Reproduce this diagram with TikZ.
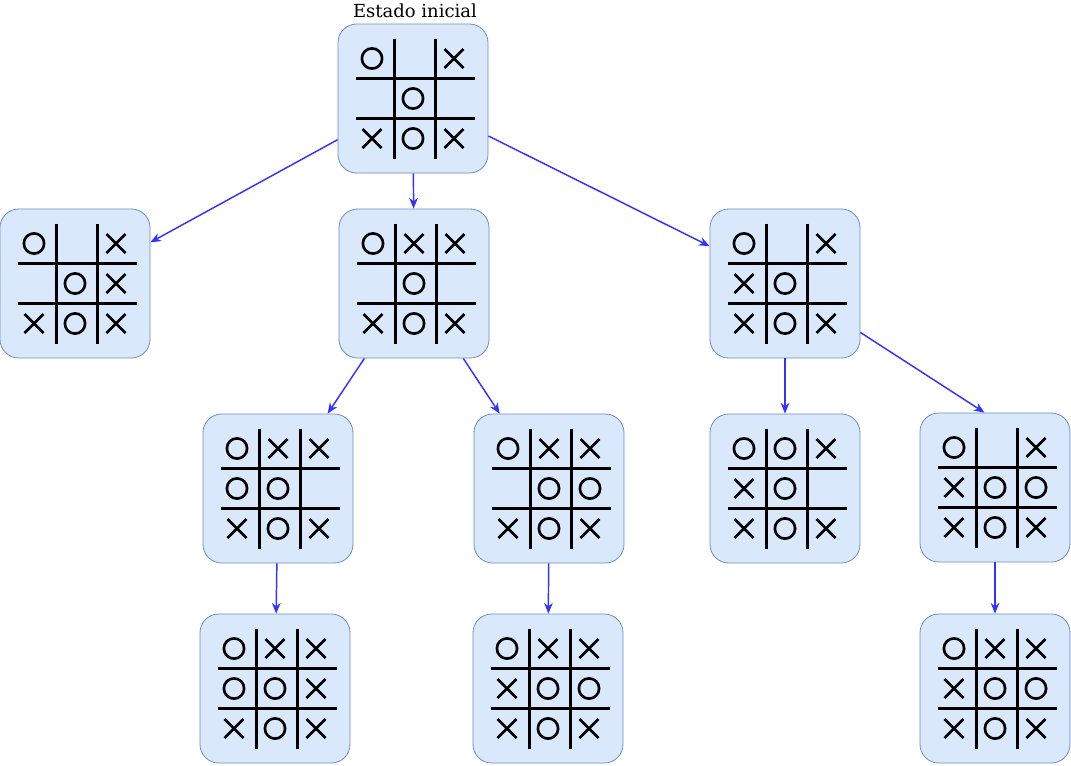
\documentclass[tikz,border=0pt]{standalone}
\usepackage{fontspec}
\setmainfont{DejaVu Serif}
\usetikzlibrary{arrows.meta}

\definecolor{boxfill}{HTML}{DAE8FC}
\definecolor{boxline}{HTML}{6C8EBF}
\definecolor{moveblue}{HTML}{3333FF}

\tikzset{
    board/.style={draw=boxline, fill=boxfill, line width=0.6pt, rounded corners=14pt,
        minimum width=112.5pt, minimum height=111.75pt, inner sep=0pt},
    gridline/.style={line width=1.6pt},
    piece/.style={line width=2pt},
    move/.style={draw=moveblue, line width=1.1pt, -{Stealth[length=8pt,width=6.5pt,inset=2.5pt]}}
}

% board: name, centre, O cells (row/col), X cells (row/col)
\newcommand\board[4]{%
    \node[board] (#1) at (#2) {};
    \begin{scope}[shift={(#1.center)}]
        \foreach \gx in {-18.5,22.5} \draw[gridline] (\gx,-60) -- (\gx,60);
        \foreach \gy in {-20,20} \draw[gridline] (-57,\gy) -- (62,\gy);
        \foreach \r/\c in {#3} \draw[piece] ({41*(\c-1)},{40*(\r-1)}) circle (7.6pt);
        \foreach \r/\c in {#4} \draw[piece] ({41*(\c-1)-9.5},{40*(\r-1)-9.5}) -- ++(19,19) ++(-19,0) -- ++(19,-19);
    \end{scope}
}

\begin{document}
\begin{tikzpicture}[x=0.75pt, y=-0.75pt]
    \useasboundingbox (0,0) rectangle (1071,765);

    % Level 0
    \board{root}{413,98.5}{0/0,1/1,2/1}{0/2,2/0,2/2}
    \node[font=\fontsize{13.5}{15}\selectfont, anchor=base] (title) at (415,17.5) {Estado inicial};

    % Level 1
    \board{left}{75,283.5}{0/0,1/1,2/1}{0/2,1/2,2/0,2/2}
    \board{mid}{414,283.5}{0/0,1/1,2/1}{0/1,0/2,2/0,2/2}
    \board{right}{785,283.5}{0/0,1/1,2/1}{0/2,1/0,2/0,2/2}

    % Level 2
    \board{midA}{278,488.5}{0/0,1/0,1/1,2/1}{0/1,0/2,2/0,2/2}
    \board{midB}{549,488.5}{0/0,1/1,1/2,2/1}{0/1,0/2,2/0,2/2}
    \board{rightA}{785,488.5}{0/0,0/1,1/1,2/1}{0/2,1/0,2/0,2/2}
    \board{rightB}{995,487.5}{0/0,1/1,1/2,2/1}{0/2,1/0,2/0,2/2}

    % Level 3
    \board{midAA}{275,688.5}{0/0,1/0,1/1,2/1}{0/1,0/2,1/2,2/0,2/2}
    \board{midBA}{548,688.5}{0/0,1/1,1/2,2/1}{0/1,0/2,1/0,2/0,2/2}
    \board{rightBA}{995,688.5}{0/0,1/1,1/2,2/1}{0/1,0/2,1/0,2/0,2/2}

    % Moves
    \draw[move] (root) -- (left);
    \draw[move] (root) -- (mid);
    \draw[move] (root) -- (right);
    \draw[move] (mid) -- (midA);
    \draw[move] (mid) -- (midB);
    \draw[move] (right) -- (rightA);
    \draw[move] (right.-33.7) -- (rightB.98.9);
    \draw[move] (midA) -- (midAA);
    \draw[move] (midB) -- (midBA);
    \draw[move] (rightB) -- (rightBA);
\end{tikzpicture}
\end{document}
